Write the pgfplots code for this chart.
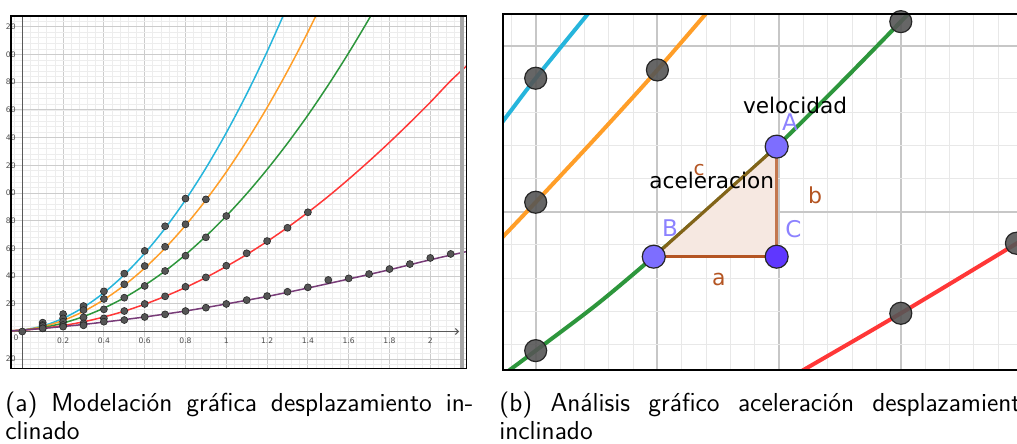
\documentclass[border=0pt]{standalone}
\usepackage{fontspec}
\usepackage{pgfplots}
\pgfplotsset{compat=1.18}
\usetikzlibrary{arrows.meta}
\newfontfamily\ggb{DejaVu Sans}
\definecolor{gcyan}{RGB}{38,181,220}
\definecolor{gorange}{RGB}{255,158,40}
\definecolor{ggreen}{RGB}{45,150,60}
\definecolor{gred}{RGB}{255,55,55}
\definecolor{gpurple}{RGB}{120,60,120}
\definecolor{gdot}{RGB}{85,85,85}
\definecolor{gviolet}{RGB}{140,130,255}
\definecolor{gbrown}{RGB}{180,85,35}
\definecolor{gtri}{RGB}{246,232,225}
\begin{document}
\begin{tikzpicture}
\path[use as bounding box] (0,0) rectangle (508.5pt,222pt);
% ---------------- left panel ----------------
\begin{axis}[name=L, at={(5.35pt,37.75pt)}, anchor=south west, scale only axis,
  width=227.9pt, height=176.25pt,
  xmin=-0.0569, xmax=2.1775, ymin=-26.7, ymax=227.8, enlargelimits=false,
  axis lines=middle, axis line style={draw=none},
  xtick={0.2,0.4,0.6,0.8,1,1.2,1.4,1.6,1.8,2},
  xticklabels={0.2,0.4,0.6,0.8,1,1.2,1.4,1.6,1.8,2},
  ytick={-20,20,40,60,80,100,120,140,160,180,200,220},
  yticklabels={20,20,40,60,80,00,20,40,60,80,00,20},
  minor xtick={-0.04,0,0.04,...,2.17},
  minor ytick={-24,-20,...,228},
  tick style={draw=none},
  grid=both,
  major grid style={draw=black!20, line width=0.5pt},
  minor grid style={draw=black!7, line width=0.4pt},
  xticklabel style={font=\fontsize{3.8}{4}\ggb, text=black!70, inner sep=1pt},
  yticklabel style={font=\fontsize{3.8}{4}\ggb, text=black!70, inner sep=1pt},
]
\draw[black!65, line width=0.5pt] (axis cs:0,-26.7) -- (axis cs:0,227.8);
\draw[black!65, line width=0.5pt, -{Straight Barb[length=1.5pt,width=3pt]}] (axis cs:-0.0569,0) -- (axis cs:2.141,0);
\node[font=\fontsize{3.8}{4}\ggb, text=black!70] at (axis cs:-0.031,-4.5) {0};
% curves
\addplot[gcyan, line width=0.75pt, smooth] coordinates {(-0.057,0.4) (0,1) (0.1,4.0) (0.2,9.5) (0.3,17.5) (0.4,28) (0.5,41) (0.6,56.5) (0.7,74.5) (0.8,95) (0.9,118) (1.0,143.5) (1.1,171.5) (1.2,202) (1.3,235)};
\addplot[gorange, line width=0.75pt, smooth] coordinates {(-0.057,0.4) (0,1) (0.1,3.5) (0.2,8.0) (0.3,14.5) (0.4,23.0) (0.5,33.4) (0.6,45.8) (0.7,60.2) (0.8,76.6) (0.9,94.9) (1.0,115.2) (1.1,137.5) (1.2,161.7) (1.3,188.0) (1.4,216.2) (1.5,246.3)};
\addplot[ggreen, line width=0.75pt, smooth] coordinates {(-0.057,0.6) (0,1) (0.1,2.8) (0.2,6.1) (0.3,10.8) (0.4,16.9) (0.5,24.4) (0.6,33.4) (0.7,43.7) (0.8,55.5) (0.9,68.8) (1.0,83.4) (1.1,99.5) (1.2,117.0) (1.3,135.9) (1.4,156.2) (1.5,178.0) (1.6,201.2) (1.7,225.8) (1.8,251.9)};
\addplot[gred, line width=0.75pt, smooth] coordinates {(-0.057,0.6) (0,1) (0.1,2.3) (0.2,4.3) (0.3,7.0) (0.4,10.5) (0.5,14.7) (0.6,19.7) (0.7,25.4) (0.8,31.8) (0.9,39.0) (1.0,47.0) (1.1,55.6) (1.2,65.0) (1.3,75.1) (1.4,86.0) (1.5,97.6) (1.6,110.0) (1.7,123.0) (1.8,136.6) (1.9,150.8) (2.0,165.5) (2.1,181) (2.18,192)};
\addplot[gpurple, line width=0.75pt, smooth] coordinates {(-0.057,0.3) (0,1) (0.1,2.2) (0.2,3.6) (0.3,5.1) (0.4,6.8) (0.5,8.6) (0.6,10.5) (0.7,12.6) (0.8,14.8) (0.9,17.3) (1.0,19.9) (1.2,25.3) (1.4,31.4) (1.6,37.9) (1.8,44.6) (2.0,51.8) (2.18,57.8)};
% points
\pgfplotsset{dotstyle/.style={only marks, mark=*, mark size=1.75pt, mark options={fill=gdot, draw=black!85, line width=0.3pt}}}
\addplot[dotstyle] coordinates {(0.1,6.4) (0.2,12.6) (0.3,18.4) (0.4,29) (0.5,41.8) (0.6,58.2) (0.7,76) (0.8,96)};
\addplot[dotstyle] coordinates {(0.1,4.7) (0.2,9.5) (0.3,15.5) (0.4,23.5) (0.5,34.1) (0.6,47.3) (0.7,61.2) (0.8,77.4) (0.9,95.4)};
\addplot[dotstyle] coordinates {(0.1,4.0) (0.2,7.1) (0.3,10.2) (0.4,16.0) (0.5,24.4) (0.6,32.9) (0.7,43.7) (0.8,54.7) (0.9,68) (1.0,83.4)};
\addplot[dotstyle] coordinates {(0.1,2.3) (0.2,4.7) (0.3,5.9) (0.4,9.5) (0.5,14.8) (0.6,19.9) (0.7,25.4) (0.8,32.3) (0.9,39.1) (1.0,47.5) (1.1,56.5) (1.2,65.3) (1.3,74.9) (1.4,86.1)};
\addplot[dotstyle] coordinates {(0,0) (0.1,2.3) (0.2,3.5) (0.3,4.5) (0.4,7.1) (0.5,8.3) (0.6,10.5) (0.7,12.4) (0.8,14.8) (0.9,17.2) (1.0,19.9) (1.1,22.7) (1.2,25.6) (1.3,28.7) (1.4,31.9) (1.5,37.2) (1.6,38.4) (1.7,41.5) (1.8,45.1) (1.9,48.7) (2.0,53.1) (2.1,56.0)};
\end{axis}
\fill[black!35] (230pt,37.75pt) rectangle (231.75pt,214pt);
\draw[black, line width=0.8pt] (L.south west) rectangle (L.north east);
% ---------------- right panel ----------------
\begin{axis}[name=R, at={(251.5pt,37pt)}, anchor=south west, scale only axis,
  width=258.5pt, height=178pt,
  xmin=0.47313, xmax=0.89795, ymin=10.464, ymax=31.91, enlargelimits=false,
  xtick={0.5,0.6,0.7,0.8}, ytick={20,30}, xticklabels={}, yticklabels={},
  minor xtick={0.48,0.50,...,0.9}, minor ytick={10,12,...,32},
  tick style={draw=none},
  grid=both,
  major grid style={draw=black!22, line width=1pt},
  minor grid style={draw=black!9, line width=0.5pt},
  axis line style={draw=none},
]
\addplot[gcyan, line width=2pt, smooth] coordinates {(0.46,24.2) (0.4731,25.45) (0.5,28.04) (0.5428,31.91) (0.55,32.6)};
\addplot[gorange, line width=2pt, smooth] coordinates {(0.46,17.5) (0.4731,18.49) (0.5,20.57) (0.55,24.5) (0.6,28.54) (0.65,32.8)};
\addplot[ggreen, line width=2pt, smooth] coordinates {(0.47,10.0) (0.5,11.63) (0.55,14.4) (0.597,17.29) (0.65,20.7) (0.698,23.92) (0.75,27.7) (0.8,31.45) (0.82,33)};
\addplot[gred, line width=2pt, smooth] coordinates {(0.70,9.6) (0.7199,10.46) (0.8,13.88) (0.9,18.3)};
% triangle
\addplot[fill=gtri, draw=none] coordinates {(0.597,17.29) (0.698,23.92) (0.698,17.29)} -- cycle;
\addplot[gbrown, line width=1.5pt] coordinates {(0.597,17.29) (0.698,17.29)};
\addplot[gbrown!80!white, line width=1.5pt] coordinates {(0.698,17.29) (0.698,23.92)};
\addplot[color={rgb,255:red,130;green,100;blue,25}, line width=1.6pt] coordinates {(0.597,17.29) (0.698,23.92)};
% labels
\node[font=\fontsize{10}{10}\ggb, text=gbrown] at (axis cs:0.6342,22.51) {c};
\node[font=\fontsize{10.8}{11}\ggb, anchor=base west, inner sep=0pt] at (axis cs:0.6701,25.93) {velocidad};
\node[font=\fontsize{10.8}{11}\ggb, anchor=base west, inner sep=0pt] at (axis cs:0.5931,21.37) {aceleracion};
\node[font=\fontsize{11}{11}\ggb, text=gbrown] at (axis cs:0.6506,15.93) {a};
\node[font=\fontsize{11}{11}\ggb, text=gbrown] at (axis cs:0.7295,21.01) {b};
\node[font=\fontsize{11.5}{12}\ggb, text=gviolet] at (axis cs:0.7089,25.42) {A};
\node[font=\fontsize{11.5}{12}\ggb, text=gviolet] at (axis cs:0.6104,19.0) {B};
\node[font=\fontsize{11.5}{12}\ggb, text=gviolet] at (axis cs:0.7117,18.94) {C};
% dots
\addplot[only marks, mark=*, mark size=5.5pt, mark options={fill=gdot, fill opacity=0.9, draw=black!85, line width=0.6pt}] coordinates {(0.5,28.04) (0.6,28.54) (0.5,20.57) (0.5,11.63) (0.8,31.45) (0.8,13.88) (0.895,18.10)};
\addplot[only marks, mark=*, mark size=5.75pt, mark options={fill={rgb,255:red,125;green,110;blue,255}, draw=black!85, line width=0.6pt}] coordinates {(0.597,17.29) (0.698,23.92)};
\addplot[only marks, mark=*, mark size=5.75pt, mark options={fill={rgb,255:red,95;green,55;blue,255}, draw=black!85, line width=0.6pt}] coordinates {(0.698,17.29)};
\end{axis}
\draw[black, line width=0.7pt] (R.south west) rectangle (R.north east);
% ---------------- captions ----------------
\node[anchor=base west, inner sep=0pt, font=\fontsize{13}{14}\sffamily] at (2.5pt,16.15pt) {\makebox[234pt][s]{(a) Modelación gráfica desplazamiento in-}};
\node[anchor=base west, inner sep=0pt, font=\fontsize{13}{14}\sffamily] at (2.5pt,2pt) {clinado};
\node[anchor=base west, inner sep=0pt, font=\fontsize{13}{14}\sffamily] at (249.5pt,16.15pt) {\makebox[267pt][s]{(b) Análisis gráfico aceleración desplazamiento}};
\node[anchor=base west, inner sep=0pt, font=\fontsize{13}{14}\sffamily] at (249.5pt,2pt) {inclinado};
\end{tikzpicture}
\end{document}
